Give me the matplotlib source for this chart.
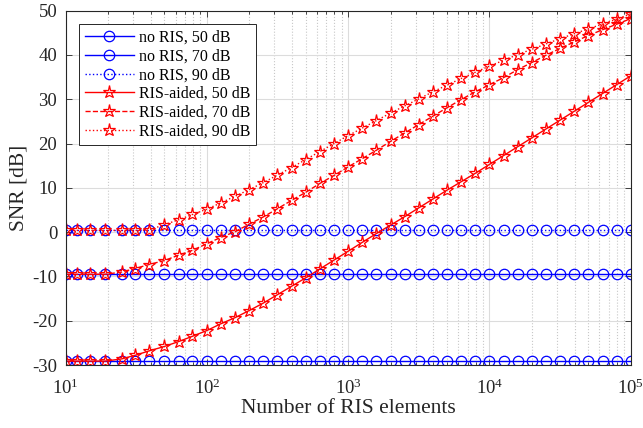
import matplotlib
matplotlib.use('Agg')
import matplotlib.pyplot as plt
from matplotlib.ticker import LogLocator, NullFormatter

plt.rcParams['font.family'] = ['Liberation Serif', 'DejaVu Serif']
plt.rcParams['mathtext.fontset'] = 'custom'
plt.rcParams['mathtext.rm'] = 'Liberation Serif'
plt.rcParams['mathtext.it'] = 'Liberation Serif:italic'
plt.rcParams['axes.unicode_minus'] = False

## number of RIS elements (markers every 0.1 decade)
n_elements = [10, 12, 15, 19, 25, 31, 39, 50, 63, 79,
              100, 125, 158, 199, 251, 316, 398, 501, 630, 794,
              1000, 1258, 1584, 1995, 2511, 3162, 3981, 5011, 6309, 7943,
              10000, 12589, 15849, 19953, 25119, 31623, 39811, 50119, 63096, 79433,
              100000]

## SNR without RIS (flat)
snr_noris_50 = [-29.1] * len(n_elements)
snr_noris_70 = [-9.5] * len(n_elements)
snr_noris_90 = [0.4] * len(n_elements)

## SNR with RIS
snr_ris_50 = [-29.1, -29.1, -29.1, -29.1, -28.6, -27.8, -26.8, -25.8, -24.7, -23.5,
              -22.2, -20.7, -19.3, -17.7, -16.0, -14.1, -12.2, -10.3, -8.3, -6.3,
              -4.3, -2.3, -0.3, 1.6, 3.5, 5.5, 7.5, 9.5, 11.4, 13.3,
              15.3, 17.3, 19.3, 21.3, 23.3, 25.3, 27.3, 29.3, 31.3, 33.3,
              35.3]
snr_ris_70 = [-9.5, -9.5, -9.5, -9.5, -9.0, -8.2, -7.3, -6.4, -5.2, -4.1,
              -2.6, -1.2, 0.1, 1.8, 3.45, 5.3, 7.2, 9.0, 11.0, 12.8,
              14.75, 16.6, 18.5, 20.5, 22.4, 24.3, 26.2, 28.1, 29.95, 31.7,
              33.3, 34.9, 36.7, 38.3, 39.95, 41.5, 42.95, 44.4, 45.7, 46.95,
              48.2]
snr_ris_90 = [0.4, 0.4, 0.4, 0.4, 0.4, 0.4, 0.5, 1.7, 2.8, 4.0,
              5.2, 6.6, 8.1, 9.6, 11.2, 12.9, 14.6, 16.4, 18.2, 20.0,
              21.8, 23.5, 25.2, 26.9, 28.5, 30.1, 31.7, 33.2, 34.7, 36.1,
              37.5, 38.8, 40.1, 41.3, 42.5, 43.7, 44.8, 45.9, 47.0, 48.1,
              49.3]

labels = ['no RIS, 50 dB', 'no RIS, 70 dB', 'no RIS, 90 dB',
          'RIS-aided, 50 dB', 'RIS-aided, 70 dB', 'RIS-aided, 90 dB']

fig = plt.figure(figsize=(6.43, 4.28), dpi=100)
ax = fig.add_axes([0.102, 0.147, 0.879, 0.828])

blue = (0, 0, 1)
red = (1, 0, 0)
ckw = dict(color=blue, marker='o', markersize=7.5, markerfacecolor='none',
           markeredgewidth=0.9, linewidth=1.0)
skw = dict(color=red, marker='*', markersize=9.5, markerfacecolor='none',
           markeredgewidth=0.9, linewidth=1.0)

ax.plot(n_elements, snr_noris_50, '-', label=labels[0], **ckw)
ax.plot(n_elements, snr_noris_70, '-', label=labels[1], **ckw)
ax.plot(n_elements, snr_noris_90, ':', label=labels[2], **ckw)
ax.plot(n_elements, snr_ris_50, '-', label=labels[3], **skw)
ax.plot(n_elements, snr_ris_70, '--', label=labels[4], **skw)
ax.plot(n_elements, snr_ris_90, ':', label=labels[5], **skw)

ax.set_xscale('log')
ax.set_xlim(10, 1e5)
ax.set_ylim(-30, 50)
ax.set_yticks(range(-30, 51, 10))
ax.xaxis.set_major_locator(LogLocator(base=10, numticks=10))
ax.xaxis.set_minor_locator(LogLocator(base=10, subs=range(2, 10), numticks=20))
ax.xaxis.set_minor_formatter(NullFormatter())

ax.grid(True, which='major', color='#dcdcdc', linewidth=0.8)
ax.grid(True, which='minor', axis='x', color='#c8c8c8', linestyle=':', linewidth=0.8)
ax.set_axisbelow(True)

ax.tick_params(which='both', direction='in', top=True, right=True,
               labelsize=13.5, colors='#262626', width=0.6)
ax.tick_params(which='major', length=4)
ax.tick_params(which='minor', length=2.5)
ax.tick_params(axis='x', which='major', pad=10)
ax.tick_params(axis='y', which='major', pad=6)
for sp in ax.spines.values():
    sp.set_color('#262626')
    sp.set_linewidth(0.8)

ax.set_xlabel('Number of RIS elements', fontsize=15.5, color='#262626')
ax.set_ylabel('SNR [dB]', fontsize=15.5, color='#262626')
ax.xaxis.set_label_coords(0.5, -0.095)
ax.yaxis.set_label_coords(-0.066, 0.5)

leg = ax.legend(loc='upper left', bbox_to_anchor=(0.024, 0.962), borderaxespad=0,
                fontsize=11.5, handlelength=3.1, fancybox=False, edgecolor='#262626',
                framealpha=1, borderpad=0.35, labelspacing=0.17, handletextpad=0.3)
leg.get_frame().set_linewidth(0.7)

fig.savefig('out.png', dpi=100)
